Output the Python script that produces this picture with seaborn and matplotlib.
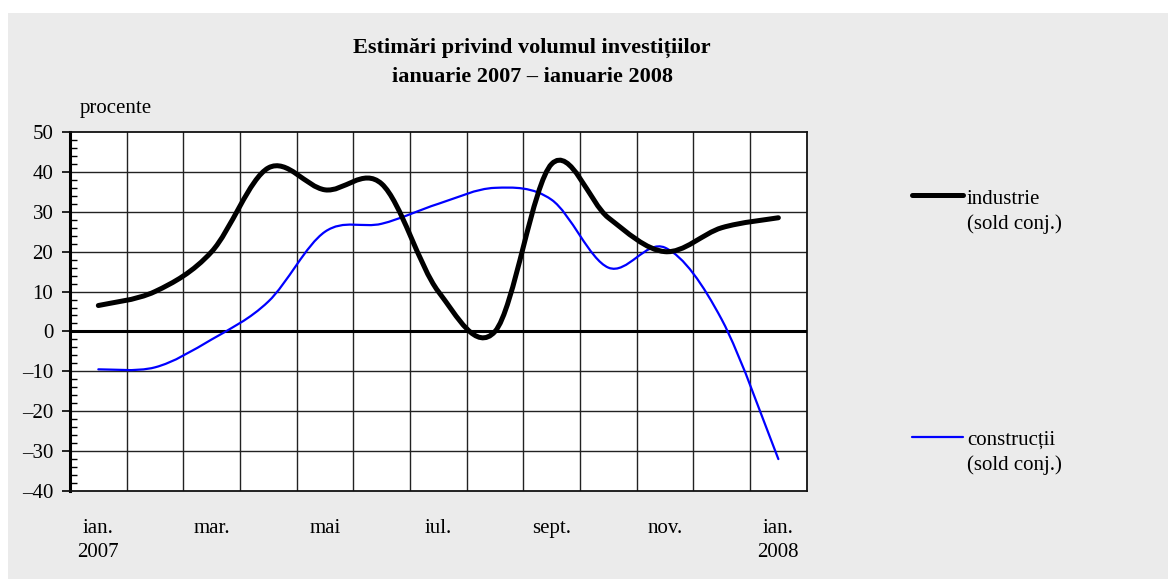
import numpy as np
import pandas as pd
import seaborn as sns
import matplotlib.pyplot as plt
from matplotlib.path import Path
from matplotlib.patches import PathPatch, Rectangle
from matplotlib.lines import Line2D

# Monthly data, ian. 2007 - ian. 2008 (sold conjunctural, procente)
months = ['ian. 2007', 'feb.', 'mar.', 'apr.', 'mai', 'iun.', 'iul.',
          'aug.', 'sept.', 'oct.', 'nov.', 'dec.', 'ian. 2008']
industrie = [6.5, 10, 20, 41, 35.5, 37, 10, 0, 42, 28.5, 20, 26, 28.5]
constructii = [-9.5, -9, -2, 7.5, 25, 27, 32, 36, 33, 16, 21, 3, -32]
tick_labels = ['ian.\n2007', 'mar.', 'mai', 'iul.', 'sept.', 'nov.', 'ian.\n2008']

df = pd.DataFrame({'luna': np.arange(len(months)),
                   'industrie': industrie,
                   'constructii': constructii})

sns.set_style('white')
plt.rcParams['font.family'] = ['Liberation Serif', 'DejaVu Serif']
plt.rcParams['text.color'] = 'black'
plt.rcParams['xtick.color'] = 'black'
plt.rcParams['ytick.color'] = 'black'
plt.rcParams['axes.unicode_minus'] = True

FS = 15

fig = plt.figure(figsize=(11.68, 5.79), dpi=100)
fig.patch.set_facecolor('white')
# stippled grey background of the chart area
fig.patches.append(Rectangle((8 / 1168, 0), 1 - 8 / 1168, 1 - 13 / 579,
                             transform=fig.transFigure, facecolor='#ebebeb',
                             edgecolor='none', zorder=-10))

ax = fig.add_axes([70 / 1168, 88 / 579, 736.7 / 1168, 359 / 579])
ax.set_facecolor('white')


def smooth_path(xy):
    # Excel-like smoothed line: Catmull-Rom turned into cubic Bezier segments
    n = len(xy)
    verts = [xy[0]]
    codes = [Path.MOVETO]
    for i in range(n - 1):
        p0 = xy[i - 1] if i > 0 else xy[i]
        p1 = xy[i]
        p2 = xy[i + 1]
        p3 = xy[i + 2] if i + 2 < n else xy[i + 1]
        verts += [p1 + (p2 - p0) / 6, p2 - (p3 - p1) / 6, p2]
        codes += [Path.CURVE4] * 3
    return Path(verts, codes)


series = [('constructii', '#0000ff', 1.6), ('industrie', 'black', 3.6)]
for name, color, lw in series:
    sns.lineplot(data=df, x='luna', y=name, ax=ax, color=color, linewidth=lw)
    line = ax.lines[-1]
    line.set_visible(False)
    patch = PathPatch(smooth_path(line.get_xydata()), facecolor='none',
                      edgecolor=color, linewidth=lw, capstyle='round',
                      joinstyle='round', zorder=4)
    ax.add_patch(patch)

ax.axhline(0, color='black', linewidth=2.2, zorder=3)

ax.set_xlim(-0.5, len(months) - 0.5)
ax.set_ylim(-40, 50)
ax.set_xlabel('')
ax.set_ylabel('')

# vertical grid on category boundaries, horizontal every 10
ax.set_xticks(np.arange(0, len(months), 2))
ax.set_xticklabels(tick_labels, fontsize=FS, linespacing=1.4)
ax.set_yticks(np.arange(-40, 51, 10))
ax.set_yticks(np.arange(-40, 51, 2), minor=True)
ax.set_yticklabels([str(v).replace('-', '\u2013') for v in range(-40, 51, 10)],
                   fontsize=FS)
ax.grid(False)
for xv in np.arange(0.5, len(months) - 1, 1):
    ax.axvline(xv, color='#222222', linewidth=1.0, zorder=1)
for yv in range(-30, 50, 10):
    ax.axhline(yv, color='#222222', linewidth=1.0, zorder=1)

ax.tick_params(axis='x', which='both', bottom=False, length=0, pad=20)
ax.tick_params(axis='y', which='major', left=True, direction='out', length=6,
               width=1.2, pad=6, color='black')
ax.tick_params(axis='y', which='minor', left=True, direction='in', length=5,
               width=1.0, color='black')

for side in ['top', 'right', 'bottom']:
    ax.spines[side].set_visible(True)
    ax.spines[side].set_color('#111111')
    ax.spines[side].set_linewidth(1.3)
ax.spines['left'].set_color('black')
ax.spines['left'].set_linewidth(2.2)

# titles
fig.text(532 / 1168, 1 - 48 / 579, 'Estimări privind volumul investițiilor',
         ha='center', va='center', fontsize=16, fontweight='bold')
fig.text(532 / 1168, 1 - 77 / 579, 'ianuarie 2007 – ianuarie 2008',
         ha='center', va='center', fontsize=16, fontweight='bold')
fig.text(80 / 1168, 1 - 108 / 579, 'procente', ha='left', va='center',
         fontsize=FS)

# legend placed as in the original
fig.add_artist(Line2D([912 / 1168, 963 / 1168], [1 - 195 / 579, 1 - 195 / 579],
                      color='black', linewidth=3.6, solid_capstyle='round',
                      transform=fig.transFigure))
fig.text(967 / 1168, 1 - 199 / 579, 'industrie', ha='left', va='center',
         fontsize=FS)
fig.text(967 / 1168, 1 - 224 / 579, '(sold conj.)', ha='left', va='center',
         fontsize=FS)
fig.add_artist(Line2D([912 / 1168, 963 / 1168], [1 - 437 / 579, 1 - 437 / 579],
                      color='#0000ff', linewidth=1.6,
                      transform=fig.transFigure))
fig.text(967 / 1168, 1 - 440 / 579, 'construcții', ha='left', va='center',
         fontsize=FS)
fig.text(967 / 1168, 1 - 465 / 579, '(sold conj.)', ha='left', va='center',
         fontsize=FS)

fig.savefig('out.png', dpi=100)
